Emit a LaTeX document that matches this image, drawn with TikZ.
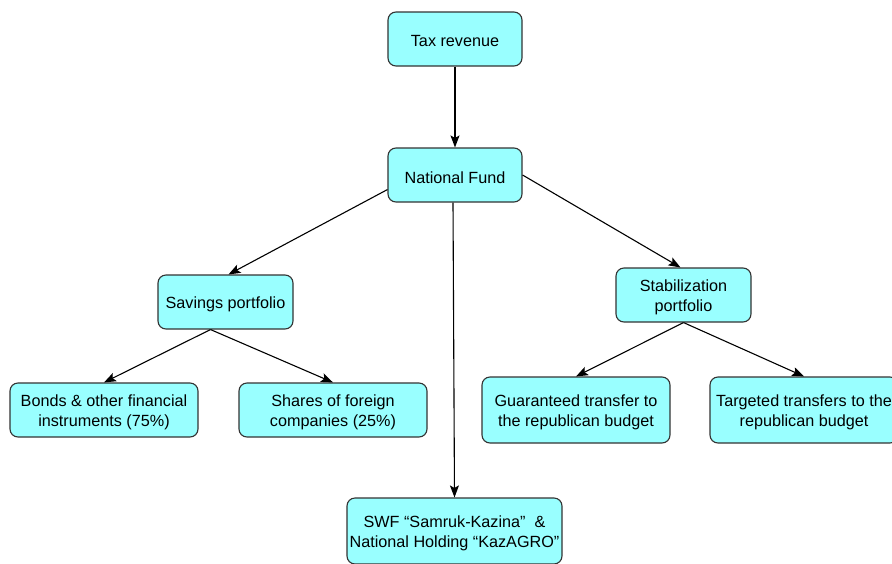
\documentclass[tikz,border=0pt]{standalone}
\usepackage{fontspec}
\setmainfont{Liberation Sans}
\usetikzlibrary{arrows.meta}
\definecolor{boxfill}{HTML}{99FFFF}
\definecolor{boxline}{HTML}{333333}
\begin{document}
\begin{tikzpicture}[x=1pt,y=-1pt,
  fundbox/.style={draw=boxline, fill=boxfill, line width=1.1pt, rounded corners=8pt, inner sep=0pt},
  caption/.style={inner sep=0pt, align=center, yshift=-2.5pt, font=\fontsize{16.2}{19.5}\selectfont},
  flow/.style={-{Stealth[length=12pt,width=9pt,inset=2.5pt]}, line width=1.1pt, black}]
\useasboundingbox (0,0) rectangle (892,563);
\begin{scope}
\clip (0,0) rectangle (892,563);
\node[fundbox, minimum width=134pt, minimum height=54pt,
  label={[caption]center:Tax revenue}] (tax) at (455,39) {};
\node[fundbox, minimum width=134pt, minimum height=54pt,
  label={[caption]center:National Fund}] (nf) at (455,175) {};
\node[fundbox, minimum width=135pt, minimum height=54pt,
  label={[caption]center:Savings portfolio}] (sav) at (225.5,302) {};
\node[fundbox, minimum width=135pt, minimum height=54pt,
  label={[caption]center:Stabilization\\portfolio}] (stab) at (683.5,295) {};
\node[fundbox, minimum width=188pt, minimum height=54pt,
  label={[caption]center:Bonds \& other financial\\instruments (75\%)}] (bonds) at (104,410) {};
\node[fundbox, minimum width=188pt, minimum height=54pt,
  label={[caption]center:Shares of foreign\\companies (25\%)}] (shares) at (333,410) {};
\node[fundbox, minimum width=188pt, minimum height=66pt,
  label={[caption]center:Guaranteed transfer to\\the republican budget}] (guar) at (576,410) {};
\node[fundbox, minimum width=188pt, minimum height=66pt,
  label={[caption]center:Targeted transfers to the\\republican budget}] (targ) at (804,410) {};
\node[fundbox, minimum width=215pt, minimum height=66pt,
  label={[caption]center:SWF “Samruk-Kazina”\ \ \&\\National Holding “KazAGRO”}] (swf) at (454.5,531) {};

\draw[flow] (tax.south) -- (nf.north);
\draw[flow] (nf.south west) ++(0,-13) -- ([xshift=3pt]sav.north);
\draw[flow] (nf.east) -- ([xshift=-3pt]stab.north);
\draw[flow] ([xshift=-2pt]nf.south) -- (swf.north);
\draw[flow] ([xshift=-15pt]sav.south) -- (bonds.north);
\draw[flow] ([xshift=-15pt]sav.south) -- (shares.north);
\draw[flow] (stab.south) -- (guar.north);
\draw[flow] (stab.south) -- (targ.north);
\end{scope}
\end{tikzpicture}
\end{document}
